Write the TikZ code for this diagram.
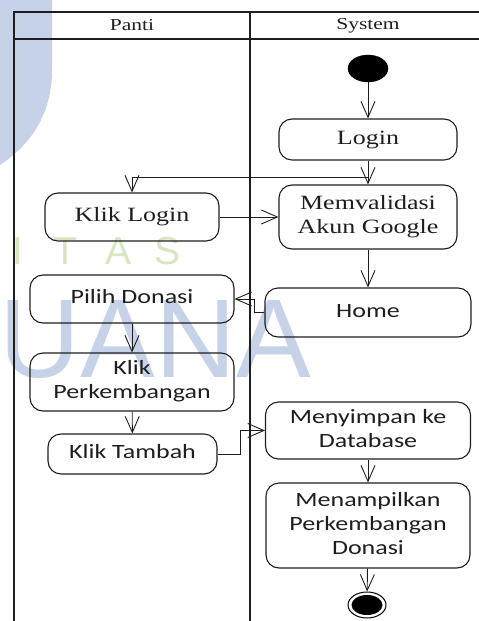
\documentclass[tikz,border=0pt]{standalone}
\usepackage{fontspec}
\usepackage{graphicx}
\setmainfont{Liberation Serif}
\newfontfamily\calfont{Carlito}
\newfontfamily\wmfont{Liberation Sans}
\usetikzlibrary{arrows.meta,shapes.geometric}

\definecolor{wmblue}{RGB}{198,210,232}
\definecolor{wmgreen}{RGB}{216,231,194}
\definecolor{ink}{RGB}{30,30,30}

% activity label: centred lines, slightly flattened
\newcommand{\acttext}[1]{\scalebox{1}[0.78]{\begin{tabular}{@{}c@{}}#1\end{tabular}}}

\begin{document}
\begin{tikzpicture}[x=1pt,y=-1pt,
  act/.style={draw=ink, line width=1.1pt, rounded corners=13pt, inner sep=0pt, text=ink},
  serif/.style={font=\fontsize{26}{31}\selectfont},
  sans/.style={font=\calfont\fontsize{26}{31}\selectfont},
  flow/.style={draw=ink, line width=0.9pt, -{Straight Barb[length=16pt,width=14pt,line width=0.9pt]}},
  lane/.style={draw=ink, line width=1.4pt},
  lanehead/.style={font=\fontsize{21.5}{24}\selectfont, text=ink, inner sep=0pt},
  wmletter/.style={font=\wmfont\fontsize{39}{40}\selectfont, text=wmgreen, inner sep=0pt}
]
\useasboundingbox (0,0) rectangle (479,621);

% watermark in the background
\fill[wmblue] (0,0) -- (52,0) -- (52,70) .. controls (52,115) and (30,145) .. (0,165) -- cycle;
\node[font=\wmfont\fontsize{112}{112}\selectfont, text=wmblue, anchor=base west, inner sep=0pt] (wmname) at (-75,377) {BUANA};
\node[wmletter] (wmi) at (18,251) {I};
\node[wmletter] (wmt) at (65,251) {T};
\node[wmletter] (wma) at (119,251) {A};
\node[wmletter] (wms) at (168,251) {S};

% swimlanes
\draw[lane] (14,621) -- (14,12) -- (479,12);
\draw[lane] (14,39) -- (479,39);
\draw[lane] (250,12) -- (250,621);
\node[lanehead] (panti) at (132,25.5) {\scalebox{1}[0.78]{Panti}};
\node[lanehead] (system) at (368,25.5) {\scalebox{1}[0.78]{System}};

% start and end
\node[ellipse, fill=black, draw=black, minimum width=40pt, minimum height=27pt, inner sep=0pt] (start) at (368,68.5) {};
\node[ellipse, draw=black, line width=1pt, minimum width=38pt, minimum height=26pt, inner sep=0pt] (stop) at (367,605) {};
\fill[black] (stop.center) ellipse (15.5 and 10);

% activities
\node[act,serif,minimum width=178pt,minimum height=41pt] (login) at (368,139.5) {\acttext{Login}};
\node[act,serif,minimum width=178pt,minimum height=64pt] (valid) at (368,217) {\acttext{Memvalidasi\\Akun Google}};
\node[act,sans,minimum width=206pt,minimum height=49pt] (home) at (368,312.5) {\acttext{Home}};
\node[act,serif,minimum width=174pt,minimum height=48pt] (klogin) at (132,217) {\acttext{Klik Login}};
\node[act,sans,minimum width=204pt,minimum height=48pt] (pilih) at (132,299) {\acttext{Pilih Donasi}};
\node[act,sans,minimum width=204pt,minimum height=58pt] (kperk) at (132,382) {\acttext{Klik\\Perkembangan}};
\node[act,sans,minimum width=169pt,minimum height=40pt] (ktambah) at (132.5,454) {\acttext{Klik Tambah}};
\node[act,sans,minimum width=205pt,minimum height=57pt] (simpan) at (368,430.5) {\acttext{Menyimpan ke\\Database}};
\node[act,sans,minimum width=204pt,minimum height=85pt] (tampil) at (368,525.5) {\acttext{Menampilkan\\Perkembangan\\Donasi}};

% control flow
\draw[flow] (start) -- (login);
\draw[flow] (login) -- (valid);
\draw[flow] (login.south) -- ++(0,17) -| (klogin.north);
\draw[flow] (klogin) -- (valid);
\draw[flow] (valid) -- (home);
\draw[flow] (home.west) -- ++(-10,0) |- (pilih.east);
\draw[flow] (pilih) -- (kperk);
\draw[flow] (kperk) -- (ktambah);
\draw[flow] (ktambah.east) -- ++(23,0) |- (simpan.west);
\draw[flow] (simpan) -- (tampil);
\draw[flow] (tampil) -- (stop);
\end{tikzpicture}
\end{document}
